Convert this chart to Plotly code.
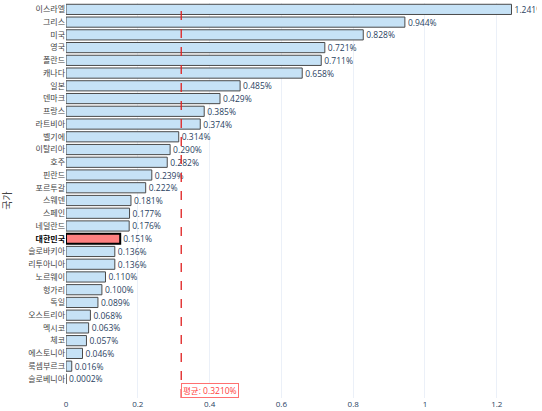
import plotly.graph_objects as go

# Country values (%), top to bottom as displayed
countries = ["이스라엘", "그리스", "미국", "영국", "폴란드", "캐나다", "일본", "덴마크",
             "프랑스", "라트비아", "벨기에", "이탈리아", "호주", "핀란드", "포르투갈",
             "스웨덴", "스페인", "네덜란드", "대한민국", "슬로바키아", "리투아니아",
             "노르웨이", "헝가리", "독일", "오스트리아", "멕시코", "체코", "에스토니아",
             "룩셈부르크", "슬로베니아"]
values = [1.241, 0.944, 0.828, 0.721, 0.711, 0.658, 0.485, 0.429,
          0.385, 0.374, 0.314, 0.290, 0.282, 0.239, 0.222,
          0.181, 0.177, 0.176, 0.151, 0.136, 0.136,
          0.110, 0.100, 0.089, 0.068, 0.063, 0.057, 0.046,
          0.016, 0.0002]
highlight = "대한민국"

mean_val = sum(values) / len(values)

# plot bottom-up so the largest sits on top
cats = countries[::-1]
vals = values[::-1]

labels = [f"{v:.4f}%" if v < 0.001 else f"{v:.3f}%" for v in vals]
colors = ["#ff8080" if c == highlight else "#c6e2f6" for c in cats]
line_colors = ["#000000" if c == highlight else "#4a4a4a" for c in cats]
line_widths = [2 if c == highlight else 1 for c in cats]
tick_text = [f"<b><span style='color:#000'>{c}</span></b>" if c == highlight else c for c in cats]

fig = go.Figure()
fig.add_trace(go.Bar(
    x=vals,
    y=cats,
    orientation='h',
    marker=dict(color=colors, line=dict(color=line_colors, width=line_widths)),
    text=labels,
    textposition='outside',
    constraintext='none',
    cliponaxis=True,
    textfont=dict(size=8.5, color="#2a3f5f"),
    width=0.8,
    showlegend=False
))

fig.add_vline(x=mean_val, line=dict(color="#e02020", width=1.3, dash="dash"))
fig.add_annotation(
    x=mean_val, y=0, xref="x", yref="paper",
    xanchor="left", yanchor="bottom",
    text=f"평균: {mean_val:.4f}%",
    showarrow=False,
    font=dict(size=8.5, color="#ff4040"),
    bgcolor="white",
    bordercolor="#ff7070",
    borderwidth=1,
    borderpad=1
)

fig.update_layout(
    template="plotly_white",
    width=542,
    height=411,
    margin=dict(l=66, r=5, t=3, b=13),
    font=dict(family="Open Sans, Noto Sans CJK KR", size=8, color="#444"),
    bargap=0.2
)
fig.update_xaxes(range=[0, 1.312], tickvals=[0, 0.2, 0.4, 0.6, 0.8, 1, 1.2],
                 ticktext=["0", "0.2", "0.4", "0.6", "0.8", "1", "1.2"],
                 tickfont=dict(size=8, color="#2a3f5f"), zeroline=False, automargin=False)
fig.update_yaxes(categoryorder="array", categoryarray=cats,
                 tickvals=cats, ticktext=tick_text, range=[-1.5, 29.5],
                 tickfont=dict(size=8, color="#444"),
                 title=dict(text="국가", font=dict(size=10, color="#444")),
                 showgrid=False, automargin=False)

# drop the default page margin so the figure sits at the window's corner
fig.write_html("out.html", config={"displayModeBar": False},
               post_script="document.body.style.margin='0';")
